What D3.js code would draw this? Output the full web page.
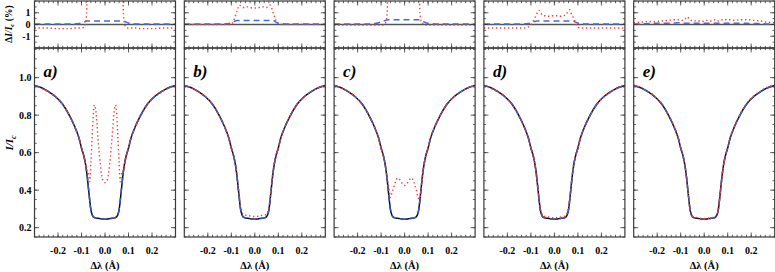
<!DOCTYPE html>
<html><head><meta charset="utf-8">
<script src="https://cdn.jsdelivr.net/npm/d3@7"></script>
<style>body{margin:0;background:#fff}svg{display:block}</style>
</head><body><svg id="c" width="775" height="272"></svg>
<script>
// ---------- DATA ----------
const lam = [-0.30,-0.27,-0.24,-0.21,-0.18,-0.15,-0.13,-0.11,-0.10,-0.09,-0.085,-0.08,-0.075,-0.07,-0.065,-0.06,-0.055,-0.05,-0.045,-0.04,-0.03,-0.02,-0.01,
  0,0.01,0.02,0.03,0.04,0.045,0.05,0.055,0.06,0.065,0.07,0.075,0.08,0.085,0.09,0.10,0.11,0.13,0.15,0.18,0.21,0.24,0.27,0.30];
const profile = [0.958,0.946,0.925,0.898,0.858,0.795,0.742,0.675,0.625,0.582,0.553,0.515,0.465,0.405,0.345,0.295,0.270,0.258,0.254,0.252,0.250,0.248,0.246,
  0.245,0.246,0.248,0.250,0.252,0.254,0.258,0.270,0.295,0.345,0.405,0.465,0.515,0.553,0.582,0.625,0.675,0.742,0.795,0.858,0.898,0.925,0.946,0.958];
const redA = [0.955,0.943,0.922,0.895,0.855,0.792,0.739,0.672,0.622,0.580,0.552,0.520,0.495,0.485,0.445,0.545,0.680,0.798,0.854,0.832,0.680,0.538,0.456,
  0.440,0.456,0.538,0.680,0.832,0.854,0.798,0.680,0.545,0.445,0.485,0.495,0.520,0.552,0.580,0.622,0.672,0.739,0.792,0.855,0.895,0.922,0.943,0.955];
const redB = [0.958,0.946,0.925,0.898,0.858,0.795,0.742,0.675,0.625,0.585,0.559,0.524,0.477,0.420,0.3615,0.311,0.285,0.2725,0.2685,0.267,0.265,0.2625,0.260,
  0.259,0.260,0.2625,0.265,0.267,0.2685,0.2725,0.285,0.311,0.3615,0.420,0.477,0.524,0.559,0.585,0.625,0.675,0.742,0.795,0.858,0.898,0.925,0.946,0.958];
const redC = [0.9575,0.9455,0.9245,0.8975,0.8575,0.7945,0.7415,0.6745,0.6245,0.5815,0.553,0.517,0.473,0.435,0.395,0.360,0.380,0.400,0.420,0.440,0.465,0.455,0.435,
  0.425,0.435,0.455,0.465,0.440,0.420,0.400,0.370,0.355,0.355,0.408,0.466,0.517,0.553,0.5815,0.6245,0.6745,0.7415,0.7945,0.8575,0.8975,0.9245,0.9455,0.9575];
const redD = [0.955,0.943,0.922,0.895,0.855,0.792,0.739,0.673,0.625,0.585,0.558,0.522,0.474,0.416,0.357,0.306,0.279,0.266,0.2615,0.2595,0.257,0.255,0.2535,
  0.2525,0.2535,0.255,0.257,0.2595,0.262,0.2665,0.280,0.307,0.3575,0.415,0.473,0.521,0.557,0.583,0.623,0.672,0.739,0.792,0.855,0.895,0.922,0.943,0.955];
const redE = [0.9595,0.948,0.9275,0.9005,0.861,0.7985,0.746,0.679,0.6285,0.5855,0.557,0.520,0.471,0.4115,0.350,0.299,0.2735,0.2615,0.257,0.255,0.2535,0.251,0.2485,
  0.248,0.2495,0.251,0.253,0.2555,0.258,0.2615,0.273,0.298,0.3485,0.409,0.469,0.5185,0.5565,0.586,0.629,0.679,0.7455,0.799,0.862,0.9015,0.9285,0.9495,0.9615];

// differences ΔI/Ic in percent (top panels)
const redDiffA = [-0.3,-0.3,-0.3,-0.35,-0.35,-0.35,-0.3,-0.3,-0.3,-0.25,-0.1,0.5,
  3,8,10,25,41,54,60,58,43,29,21,19.5,21,29,43,58,60,54,41,25,10,8,3,
  0.5,-0.1,-0.25,-0.3,-0.3,-0.3,-0.35,-0.35,-0.35,-0.3,-0.3,-0.3];
const redDiffB = [0,0,0,0,0,0,0,0,0.05,0.3,0.6,0.9,
  1.2,1.5,1.65,1.6,1.5,1.45,1.45,1.5,1.5,1.45,1.4,1.4,1.4,1.45,1.5,1.5,1.45,1.45,1.5,1.6,1.65,1.5,1.2,
  0.9,0.6,0.3,0.05,0,0,0,0,0,0,0,0];
const redDiffC = [-0.05,-0.05,-0.05,-0.05,-0.05,-0.05,-0.05,-0.05,-0.05,-0.05,0,0.2,
  0.8,3,5,6.5,11,14,16.6,18.8,21.5,20.7,18.9,18,18.9,20.7,21.5,18.8,16.6,14,10,6,1.0,0.3,0.1,
  0.1,0,-0.05,-0.05,-0.05,-0.05,-0.05,-0.05,-0.05,-0.05,-0.05,-0.05];
const redDiffD = [-0.3,-0.3,-0.3,-0.3,-0.3,-0.3,-0.3,-0.2,0,0.3,0.5,0.7,
  0.9,1.1,1.2,1.1,0.9,0.8,0.75,0.75,0.7,0.7,0.75,0.75,0.75,0.7,0.7,0.75,0.8,0.85,1.0,1.2,1.25,1.0,0.8,
  0.6,0.4,0.1,-0.2,-0.3,-0.3,-0.3,-0.3,-0.3,-0.3,-0.3,-0.3];
const redDiffE = [0.15,0.2,0.25,0.25,0.3,0.35,0.4,0.4,0.35,0.35,0.4,0.5,
  0.6,0.65,0.5,0.4,0.35,0.35,0.3,0.3,0.35,0.3,0.25,0.3,0.35,0.3,0.3,0.35,0.4,0.35,0.3,0.3,0.35,0.4,0.4,
  0.35,0.35,0.4,0.4,0.4,0.35,0.4,0.4,0.35,0.3,0.2,0.15];
const blueDiffA = [0.05,0.05,0.05,0.05,0.05,0.05,0.05,0.08,0.12,0.2,0.25,0.28,
  0.3,0.3,0.3,0.3,0.3,0.3,0.3,0.3,0.3,0.3,0.3,0.3,0.3,0.3,0.3,0.3,0.3,0.3,0.3,0.3,0.3,0.3,0.3,
  0.28,0.25,0.2,0.12,0.08,0.05,0.05,0.05,0.05,0.05,0.05,0.05];
const blueDiffB = [0.05,0.05,0.05,0.05,0.05,0.05,0.05,0.08,0.12,0.2,0.28,0.32,
  0.35,0.35,0.35,0.35,0.35,0.35,0.35,0.35,0.35,0.35,0.35,0.35,0.35,0.35,0.35,0.35,0.35,0.35,0.35,0.35,0.35,0.35,0.35,
  0.32,0.28,0.2,0.12,0.08,0.05,0.05,0.05,0.05,0.05,0.05,0.05];
const blueDiffC = [0.05,0.05,0.05,0.05,0.05,0.05,0.08,0.15,0.25,0.3,0.32,0.35,
  0.38,0.4,0.4,0.4,0.4,0.4,0.4,0.4,0.4,0.4,0.4,0.4,0.4,0.4,0.4,0.4,0.4,0.4,0.4,0.4,0.38,0.35,0.3,
  0.25,0.2,0.15,0.1,0.08,0.05,0.05,0.05,0.05,0.05,0.05,0.05];
const blueDiffD = [0.05,0.05,0.05,0.05,0.05,0.05,0.05,0.08,0.12,0.2,0.25,0.28,
  0.3,0.3,0.3,0.3,0.3,0.3,0.3,0.3,0.3,0.3,0.3,0.3,0.3,0.3,0.3,0.3,0.3,0.3,0.3,0.3,0.3,0.3,0.3,
  0.28,0.25,0.2,0.12,0.08,0.05,0.05,0.05,0.05,0.05,0.05,0.05];
const blueDiffE = [0.05,0.05,0.08,0.1,0.1,0.1,0.12,0.15,0.15,0.12,0.1,0.1,
  0.1,0.1,0.1,0.1,0.1,0.1,0.1,0.1,0.1,0.1,0.1,0.1,0.1,0.1,0.1,0.1,0.1,0.1,0.1,0.1,0.1,0.1,0.1,
  0.1,0.1,0.1,0.12,0.1,0.1,0.1,0.1,0.08,0.08,0.05,0.05];

const panelLabels = ["a)","b)","c)","d)","e)"];
const redMain = [redA, redB, redC, redD, redE];
const redDiff = [redDiffA, redDiffB, redDiffC, redDiffD, redDiffE];
const blueDiff = [blueDiffA, blueDiffB, blueDiffC, blueDiffD, blueDiffE];
const xTicks = [-0.2,-0.1,0.0,0.1,0.2];
const xTickLabels = ["-0.2","-0.1","0.0","0.1","0.2"];
const yTicksMain = [0.2,0.4,0.6,0.8,1.0];
const yTickLabelsMain = ["0.2","0.4","0.6","0.8","1.0"];
const yTicksTop = [-1,0,1];
const yTickLabelsTop = ["-1","0","1"];

// ---------- LAYOUT ----------
const svg = d3.select("#c");
const W = 141, step = 149.8, left0 = 34.5;
const topY0 = 1, topY1 = 48, mainY0 = 48, mainY1 = 237;
const font = "'Liberation Serif','Times New Roman',serif";
const frameColor = "#3a3a3a";
const blueC = "#3d6fe0", redC_ = "#ff3a3a";

const yTop = d3.scaleLinear().domain([-2,2]).range([topY1, topY0]);
const yMain = d3.scaleLinear().domain([0.15,1.158]).range([mainY1, mainY0]);
const defs = svg.append("defs");

function frame(g, x, y, y0, y1, xMinor, xMajor, yMinor, yMajor, bottomTicks, topTicks) {
  const x0 = x.range()[0], x1 = x.range()[1];
  // ticks x
  xMinor.forEach(v => {
    const px = x(v);
    g.append("line").attr("x1",px).attr("x2",px).attr("y1",y1).attr("y2",y1-2.2).attr("stroke",frameColor).attr("stroke-width",0.8);
    g.append("line").attr("x1",px).attr("x2",px).attr("y1",y0).attr("y2",y0+2.2).attr("stroke",frameColor).attr("stroke-width",0.8);
  });
  xMajor.forEach(v => {
    const px = x(v);
    g.append("line").attr("x1",px).attr("x2",px).attr("y1",y1).attr("y2",y1-4.5).attr("stroke",frameColor).attr("stroke-width",0.8);
    g.append("line").attr("x1",px).attr("x2",px).attr("y1",y0).attr("y2",y0+4.5).attr("stroke",frameColor).attr("stroke-width",0.8);
  });
  yMinor.forEach(v => {
    const py = y(v);
    g.append("line").attr("x1",x0).attr("x2",x0+2.2).attr("y1",py).attr("y2",py).attr("stroke",frameColor).attr("stroke-width",0.8);
    g.append("line").attr("x1",x1).attr("x2",x1-2.2).attr("y1",py).attr("y2",py).attr("stroke",frameColor).attr("stroke-width",0.8);
  });
  yMajor.forEach(v => {
    const py = y(v);
    g.append("line").attr("x1",x0).attr("x2",x0+4.5).attr("y1",py).attr("y2",py).attr("stroke",frameColor).attr("stroke-width",0.8);
    g.append("line").attr("x1",x1).attr("x2",x1-4.5).attr("y1",py).attr("y2",py).attr("stroke",frameColor).attr("stroke-width",0.8);
  });
  g.append("rect").attr("x",x0).attr("y",y0).attr("width",x1-x0).attr("height",y1-y0)
    .attr("fill","none").attr("stroke",frameColor).attr("stroke-width",1.2);
}

const xMinorTicks = d3.range(-0.28,0.29,0.02).map(v=>+v.toFixed(2));
const yMinorMain = d3.range(0.15,1.16,0.05).map(v=>+v.toFixed(2));
const yMinorTop = d3.range(-2,2.01,0.5);

for (let i = 0; i < 5; i++) {
  const L = left0 + i*step;
  const x = d3.scaleLinear().domain([-0.3,0.3]).range([L, L+W]);
  const g = svg.append("g");

  // clip paths
  defs.append("clipPath").attr("id","ct"+i).append("rect").attr("x",L).attr("y",topY0).attr("width",W).attr("height",topY1-topY0);
  defs.append("clipPath").attr("id","cm"+i).append("rect").attr("x",L).attr("y",mainY0).attr("width",W).attr("height",mainY1-mainY0);

  // ---- top panel ----
  const lt = d3.line().x((d,j)=>x(lam[j])).y(d=>yTop(d)).curve(d3.curveMonotoneX);
  const gt = g.append("g").attr("clip-path","url(#ct"+i+")");
  gt.append("line").attr("x1",L).attr("x2",L+W).attr("y1",yTop(0)).attr("y2",yTop(0)).attr("stroke","#555").attr("stroke-width",1.3);
  gt.append("path").attr("d",lt(blueDiff[i])).attr("fill","none").attr("stroke",blueC).attr("stroke-width",1.5).attr("stroke-dasharray","6,4");
  gt.append("path").attr("d",lt(redDiff[i])).attr("fill","none").attr("stroke",redC_).attr("stroke-width",1.4).attr("stroke-dasharray","1.4,2.6");
  frame(g, x, yTop, topY0, topY1, xMinorTicks, xTicks, yMinorTop, yTicksTop);

  // ---- main panel ----
  const lm = d3.line().x((d,j)=>x(lam[j])).y(d=>yMain(d)).curve(d3.curveMonotoneX);
  const gm = g.append("g").attr("clip-path","url(#cm"+i+")");
  gm.append("path").attr("d",lm(profile)).attr("fill","none").attr("stroke","#111").attr("stroke-width",1.5);
  gm.append("path").attr("d",lm(profile)).attr("fill","none").attr("stroke","#2f5bc4").attr("stroke-width",1.5).attr("stroke-dasharray","6,4");
  gm.append("path").attr("d",lm(redMain[i])).attr("fill","none").attr("stroke",redC_).attr("stroke-width",1.4).attr("stroke-dasharray","1.4,2.6");
  frame(g, x, yMain, mainY0, mainY1, xMinorTicks, xTicks, yMinorMain, yTicksMain);

  // x tick labels
  xTicks.forEach((v,k) => {
    g.append("text").attr("x",x(v)).attr("y",254).attr("text-anchor","middle")
      .attr("font-family",font).attr("font-weight","bold").attr("font-size",10).text(xTickLabels[k]);
  });
  // x title
  g.append("text").attr("x",L+W/2).attr("y",269).attr("text-anchor","middle")
    .attr("font-family",font).attr("font-weight","bold").attr("font-size",10.5).text("Δλ (Å)");
  // panel letter
  g.append("text").attr("x",L+9).attr("y",77).attr("font-family",font).attr("font-weight","bold")
    .attr("font-style","italic").attr("font-size",17).text(panelLabels[i]);

  if (i === 0) {
    yTicksMain.forEach((v,k) => {
      g.append("text").attr("x",L-3).attr("y",yMain(v)+3.5).attr("text-anchor","end")
        .attr("font-family",font).attr("font-weight","bold").attr("font-size",10).text(yTickLabelsMain[k]);
    });
    yTicksTop.forEach((v,k) => {
      g.append("text").attr("x",L-4).attr("y",yTop(v)+3.5).attr("text-anchor","end")
        .attr("font-family",font).attr("font-weight","bold").attr("font-size",10).text(yTickLabelsTop[k]);
    });
  }
}

// y titles
const t1 = svg.append("text").attr("transform","translate(13,143) rotate(-90)").attr("text-anchor","middle")
  .attr("font-family",font).attr("font-weight","bold").attr("font-size",11);
t1.append("tspan").attr("font-style","italic").text("I/I");
t1.append("tspan").attr("font-style","italic").attr("font-size",8).attr("dy",2.5).text("c");
const t2 = svg.append("text").attr("transform","translate(12,24) rotate(-90)").attr("text-anchor","middle")
  .attr("font-family",font).attr("font-weight","bold").attr("font-size",9.5);
t2.append("tspan").text("Δ");
t2.append("tspan").attr("font-style","italic").text("I/I");
t2.append("tspan").attr("font-style","italic").attr("font-size",7).attr("dy",2).text("c");
t2.append("tspan").attr("dy",-2).text(" (%)");
</script></body></html>
